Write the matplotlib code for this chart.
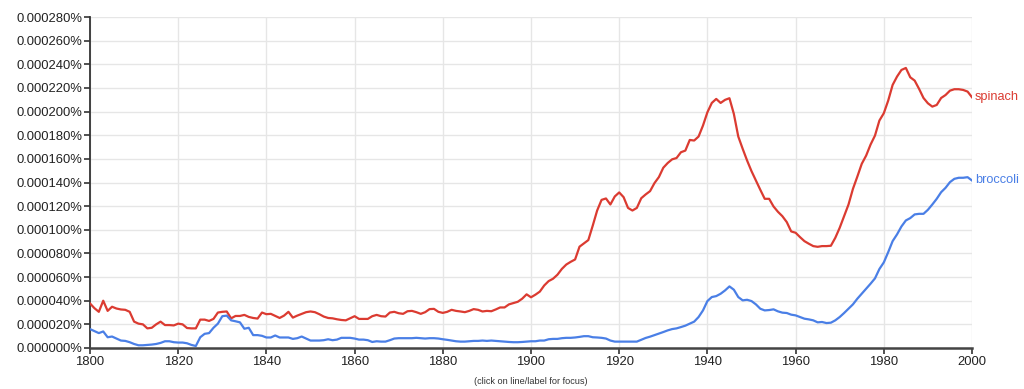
import matplotlib
matplotlib.use("Agg")
import matplotlib.pyplot as plt
from matplotlib.ticker import FuncFormatter, MultipleLocator
import numpy as np

plt.rcParams['font.family'] = ['Liberation Sans', 'DejaVu Sans']

years = list(range(1800, 2001))

# values in millionths of a percent (e.g. 37.7 -> 0.0000377%)
spinach = [
    37.7, 33.7, 30.6, 40.0, 31.4, 34.9, 33.4, 32.6, 32.3, 30.6,
    22.3, 20.6, 20.0, 16.6, 17.1, 20.0, 22.3, 19.4, 19.4, 19.1,
    20.6, 20.0, 16.9, 16.6, 16.6, 24.0, 24.0, 22.9, 24.6, 30.0,
    30.6, 30.9, 25.1, 27.1, 27.1, 28.0, 26.3, 25.4, 24.9, 30.0,
    28.6, 28.9, 27.1, 25.4, 27.4, 30.6, 25.7, 27.4, 28.9, 30.3,
    30.9, 30.3, 28.6, 26.6, 25.4, 25.1, 24.3, 23.7, 23.4, 25.1,
    26.9, 24.6, 24.6, 24.6, 26.9, 28.0, 26.9, 26.6, 30.0, 30.6,
    29.4, 28.9, 31.1, 31.4, 30.3, 28.9, 30.3, 32.9, 33.1, 30.6,
    29.7, 30.6, 32.3, 31.4, 30.9, 30.3, 31.4, 32.9, 32.3, 30.9,
    31.4, 31.1, 32.6, 34.3, 34.3, 36.9, 38.0, 39.1, 41.7, 45.4,
    42.9, 45.1, 47.7, 52.9, 56.6, 58.6, 62.0, 66.9, 70.6, 72.9,
    74.9, 85.7, 88.5, 91.3, 103.5, 116.3, 125.3, 126.5, 121.4, 128.2,
    131.6, 127.6, 118.5, 116.3, 118.5, 126.7, 129.9, 132.7, 139.5, 144.6,
    152.5, 156.5, 159.6, 160.7, 165.6, 167.0, 176.0, 175.5, 178.9, 188.2,
    199.4, 207.3, 210.7, 207.3, 209.9, 211.3, 198.0, 178.9, 168.5, 158.6,
    149.6, 141.7, 133.8, 126.2, 126.2, 119.7, 115.2, 111.5, 106.5, 98.6,
    97.5, 93.8, 90.4, 88.2, 86.2, 85.6, 86.2, 86.2, 86.5, 93.2,
    101.7, 111.5, 121.4, 134.6, 145.0, 155.8, 162.8, 172.1, 179.7, 192.4,
    198.6, 209.3, 222.5, 229.6, 235.2, 236.9, 229.0, 226.2, 219.2, 211.5,
    207.0, 204.2, 205.6, 211.5, 214.0, 217.7, 218.9, 218.9, 218.3, 216.9,
    212.1,
]

broccoli = [
    16.0, 14.3, 12.6, 14.0, 9.1, 9.7, 8.0, 6.3, 6.0, 4.9,
    3.4, 2.3, 2.3, 2.6, 2.9, 3.4, 4.3, 5.7, 5.7, 4.9,
    4.6, 4.6, 4.0, 2.6, 1.7, 9.1, 12.0, 12.6, 17.1, 20.6,
    26.9, 27.4, 23.4, 22.6, 21.7, 16.3, 17.1, 10.9, 10.9, 10.3,
    8.9, 8.9, 10.6, 8.9, 8.9, 8.9, 7.7, 8.3, 9.7, 8.0,
    6.3, 6.3, 6.3, 6.6, 7.4, 6.6, 7.1, 8.6, 8.6, 8.6,
    8.0, 7.1, 7.1, 6.6, 5.1, 5.7, 5.4, 5.4, 6.6, 8.0,
    8.3, 8.3, 8.3, 8.3, 8.6, 8.3, 8.0, 8.3, 8.3, 8.0,
    7.4, 6.9, 6.3, 5.7, 5.4, 5.4, 5.7, 6.0, 6.0, 6.3,
    6.0, 6.3, 6.0, 5.7, 5.4, 5.1, 4.9, 4.9, 5.1, 5.4,
    5.7, 5.7, 6.3, 6.3, 7.4, 7.7, 7.7, 8.3, 8.6, 8.6,
    8.9, 9.4, 10.0, 10.0, 9.1, 8.9, 8.6, 8.0, 6.3, 5.4,
    5.4, 5.4, 5.4, 5.4, 5.4, 7.0, 8.5, 9.6, 10.9, 12.2,
    13.5, 14.9, 16.0, 16.6, 17.7, 18.9, 20.6, 22.3, 26.2, 31.8,
    39.7, 43.1, 43.9, 45.9, 48.7, 52.1, 49.3, 43.1, 40.3, 40.8,
    39.7, 36.9, 33.2, 31.8, 32.1, 32.7, 31.0, 29.9, 29.6, 28.2,
    27.6, 26.2, 24.8, 24.2, 23.4, 21.7, 22.0, 21.1, 21.4, 23.4,
    26.2, 29.6, 33.2, 36.9, 41.7, 45.9, 50.1, 54.4, 58.9, 66.8,
    72.4, 81.1, 90.4, 96.1, 102.8, 107.9, 109.9, 113.0, 113.5, 113.5,
    116.9, 121.4, 126.2, 131.8, 135.5, 140.3, 143.1, 144.0, 144.0, 144.5,
    141.7,
]

series_names = ["spinach", "broccoli"]
series_colors = ["#db3b31", "#4a7fe6"]

fig = plt.figure(figsize=(10.24, 3.89), dpi=100)
ax = fig.add_axes([90/1024, 41/389, 882/1024, 331/389])

for name, vals, col in zip(series_names, [spinach, broccoli], series_colors):
    ax.plot(years, vals, color=col, lw=1.6, solid_joinstyle='round', zorder=3)
    ax.annotate(name, xy=(years[-1], vals[-1]), xytext=(2, 0),
                textcoords='offset points', color=col, fontsize=9.2,
                va='center', ha='left', annotation_clip=False)

ax.set_xlim(1800, 2000)
ax.set_ylim(0, 280)
ax.xaxis.set_major_locator(MultipleLocator(20))
ax.yaxis.set_major_locator(MultipleLocator(20))
ax.yaxis.set_major_formatter(FuncFormatter(lambda v, p: f"{v/1e6:.6f}%"))

ax.grid(True, color='#e6e6e6', lw=1.0, zorder=0)
ax.set_axisbelow(True)
for s in ['top', 'right']:
    ax.spines[s].set_visible(False)
ax.spines['left'].set_color('#333333')
ax.spines['left'].set_linewidth(1.3)
ax.spines['bottom'].set_color('#444444')
ax.spines['bottom'].set_linewidth(1.8)
ax.tick_params(axis='y', direction='out', length=4, width=1.2, color='#333333',
               labelsize=9.4, labelcolor='#222222', pad=1.5)
ax.tick_params(axis='x', direction='out', length=4, width=1.2, color='#333333',
               labelsize=9.4, labelcolor='#222222', pad=2)

fig.text((90 + 972) / 2 / 1024, 8/389, "(click on line/label for focus)",
         ha='center', va='center', fontsize=6.6, color='#333333')

fig.savefig("out.png", dpi=100)
